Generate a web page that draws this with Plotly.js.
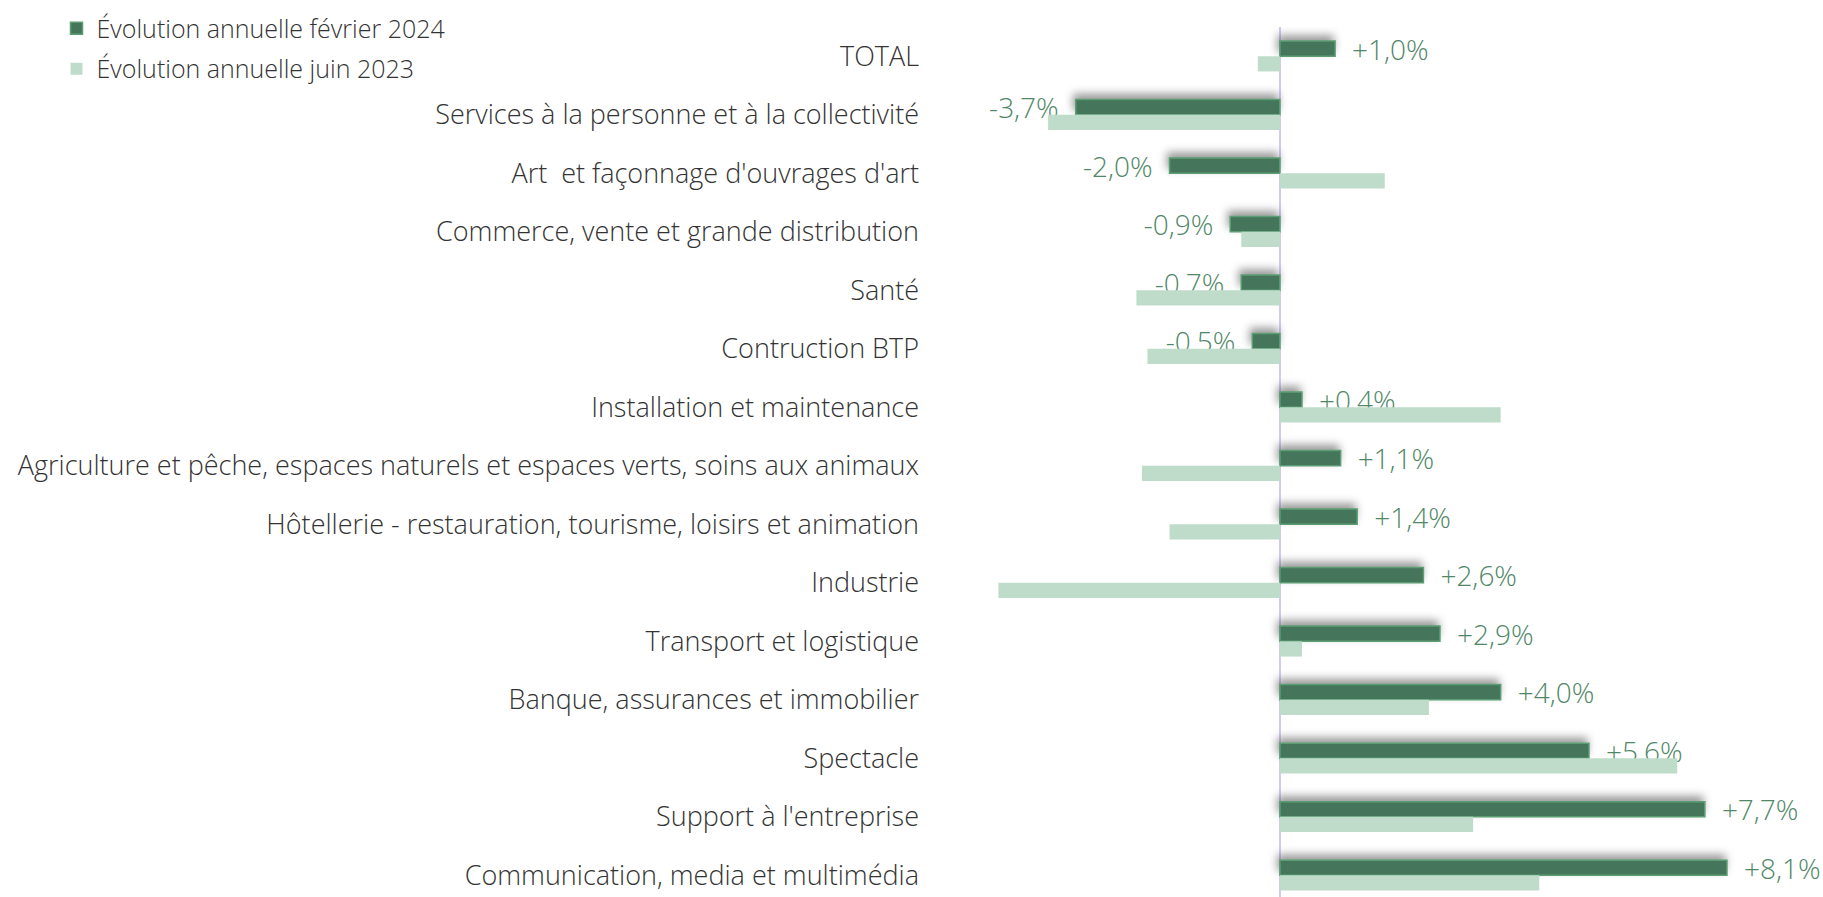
<!DOCTYPE html>
<html>
<head>
<meta charset="utf-8">
<script src="https://cdn.plot.ly/plotly-3.0.1.min.js"></script>
<style>
  html, body { margin: 0; padding: 0; background: #fff; }
  #chart { width: 1823px; height: 897px; }
  /* soft shadow under the dark bars, like the original */
  .barlayer .trace:first-child .point path { filter: drop-shadow(-2px -5px 4px rgba(0,0,0,0.4)); }
</style>
</head>
<body>
<div id="chart"></div>
<script>
// categories, top to bottom
let categories = [
  "TOTAL",
  "Services à la personne et à la collectivité",
  "Art  et façonnage d'ouvrages d'art",
  "Commerce, vente et grande distribution",
  "Santé",
  "Contruction BTP",
  "Installation et maintenance",
  "Agriculture et pêche, espaces naturels et espaces verts, soins aux animaux",
  "Hôtellerie - restauration, tourisme, loisirs et animation",
  "Industrie",
  "Transport et logistique",
  "Banque, assurances et immobilier",
  "Spectacle",
  "Support à l'entreprise",
  "Communication, media et multimédia"
]
// annual change (%) february 2024
let feb2024 = [1.0, -3.7, -2.0, -0.9, -0.7, -0.5, 0.4, 1.1, 1.4, 2.6, 2.9, 4.0, 5.6, 7.7, 8.1]
// annual change (%) june 2023
let jun2023 = [-0.4, -4.2, 1.9, -0.7, -2.6, -2.4, 4.0, -2.5, -2.0, -5.1, 0.4, 2.7, 7.2, 3.5, 4.7]

// labels like "+1,0%", with a little room from the bar end
let labels = feb2024.map(v => {
  let s = (v > 0 ? "+" : "") + v.toFixed(1).replace(".", ",") + "%"
  return v > 0 ? "\u2002" + s : s + "\u2002"
})

let trace1 = {
  type: "bar",
  orientation: "h",
  name: "Évolution annuelle février 2024",
  legendgroup: "a",
  y: categories,
  x: feb2024,
  text: labels,
  textposition: "outside",
  constraintext: "none",
  cliponaxis: false,
  textfont: { family: "Open Sans, sans-serif", size: 28, weight: 300, color: "#4f8767" },
  marker: { color: "#45765b", line: { color: "#5c9e74", width: 1.5 } },
  hoverinfo: "x+y"
}

let trace2 = {
  type: "bar",
  orientation: "h",
  name: "Évolution annuelle juin 2023",
  legendgroup: "b",
  y: categories,
  x: jun2023,
  textposition: "none",
  marker: { color: "#bfdccb" },
  hoverinfo: "x+y"
}

let layout = {
  width: 1823,
  height: 897,
  barmode: "group",
  bargap: 0.48,
  bargroupgap: 0,
  showlegend: true,
  legend: {
    xref: "container", yref: "container",
    x: 0.031, y: 0.994, xanchor: "left", yanchor: "top",
    font: { family: "Open Sans, sans-serif", size: 25, weight: 300, color: "#333" },
    traceorder: "grouped",
    itemwidth: 30, tracegroupgap: 5
  },
  margin: { l: 930, r: 0, t: 27, b: 0 },
  xaxis: {
    range: [-6.34, 9.84],
    showgrid: false,
    showticklabels: false,
    zeroline: true,
    zerolinecolor: "#d3c9f3",
    zerolinewidth: 2
  },
  yaxis: {
    type: "category",
    range: [14.37, -0.5],
    showgrid: false,
    ticks: "",
    ticklabelstandoff: 10,
    tickfont: { family: "Open Sans, sans-serif", size: 27, weight: 300, color: "#333" }
  },
  paper_bgcolor: "#fff",
  plot_bgcolor: "#fff",
  font: { family: "Open Sans, sans-serif" }
}

Plotly.newPlot("chart", [trace1, trace2], layout, { displayModeBar: false })
</script>
</body>
</html>
